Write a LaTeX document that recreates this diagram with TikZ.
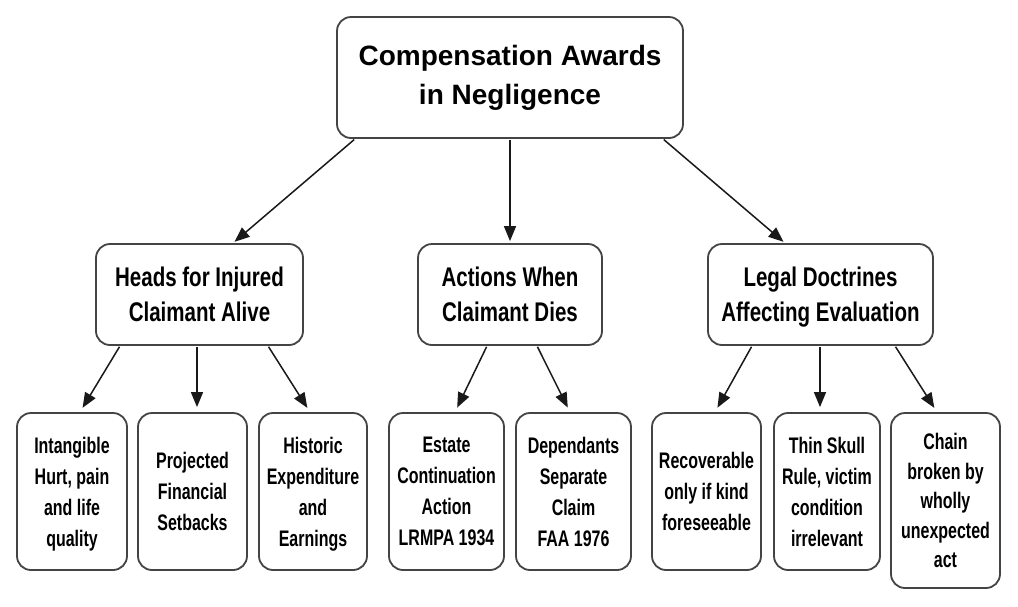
\documentclass[tikz,border=0pt]{standalone}
\usepackage{fontspec}
\setmainfont{Liberation Sans}
\newfontfamily\condfont{Liberation Sans}[FakeStretch=0.76]
\newfontfamily\leaffont{Liberation Sans}[FakeStretch=0.71]
\usetikzlibrary{arrows.meta,calc}
\definecolor{boxline}{HTML}{444444}
\tikzset{
  box/.style={draw=boxline, line width=1.8pt, rounded corners=14pt, fill=white, align=center, inner sep=0pt},
  rootbox/.style={box, font=\fontsize{28}{39}\selectfont\bfseries},
  midbox/.style={box, font=\condfont\fontsize{27}{35}\selectfont\bfseries},
  leafbox/.style={box, font=\leaffont\fontsize{22.5}{31}\selectfont\bfseries},
  arr/.style={line width=1.5pt, draw=black!90, -{Triangle[length=15pt,width=12pt]}}
}
\begin{document}
\begin{tikzpicture}[x=1pt,y=-1pt]
\useasboundingbox[fill=white] (0,0) rectangle (1018,606);
\node[rootbox, minimum width=346pt, minimum height=121pt] (root) at (510,77.5) {Compensation Awards\\in Negligence};
\node[midbox, minimum width=207pt, minimum height=101pt] (heads) at (199.5,294.5) {Heads for Injured\\Claimant Alive};
\node[midbox, minimum width=184pt, minimum height=101pt] (actions) at (510,294.5) {Actions When\\Claimant Dies};
\node[midbox, minimum width=225pt, minimum height=101pt] (legal) at (820.5,294.5) {Legal Doctrines\\\smash{Affecting Evaluation}};
\node[leafbox, minimum width=110pt, minimum height=157pt] (b1) at (72,491.5) {Intangible\\Hurt, pain\\and life\\\smash{quality}};
\node[leafbox, minimum width=109pt, minimum height=157pt] (b2) at (192.5,491.5) {Projected\\Financial\\Setbacks};
\node[leafbox, minimum width=108pt, minimum height=157pt] (b3) at (313,491.5) {Historic\\Expenditure\\and\\\smash{Earnings}};
\node[leafbox, minimum width=115pt, minimum height=157pt] (b4) at (446.5,491.5) {Estate\\Continuation\\Action\\LRMPA 1934};
\node[leafbox, minimum width=115pt, minimum height=157pt] (b5) at (573.5,491.5) {Dependants\\Separate\\Claim\\FAA 1976};
\node[leafbox, minimum width=109pt, minimum height=157pt] (b6) at (706.5,491.5) {Recoverable\\only if kind\\foreseeable};
\node[leafbox, minimum width=106pt, minimum height=157pt] (b7) at (827,491.5) {Thin Skull\\Rule, victim\\condition\\irrelevant};
\node[leafbox, minimum width=109pt, minimum height=175pt, font=\leaffont\fontsize{22.5}{29.5}\selectfont\bfseries] (b8) at (945.5,500.5) {Chain\\broken by\\wholly\\unexpected\\act};
% level 1 -> level 2
\draw[arr, shorten <=1pt, shorten >=2pt] ([xshift=-155pt]root.south) -- ([xshift=33.5pt]heads.north);
\draw[arr, shorten <=1pt, shorten >=2pt] (root.south) -- (actions.north);
\draw[arr, shorten <=1pt, shorten >=2pt] ([xshift=153pt]root.south) -- ([xshift=-35.5pt]legal.north);
% level 2 -> level 3
\draw[arr, shorten <=1pt, shorten >=5pt] ([xshift=-79.5pt]heads.south) -- ([xshift=8pt]b1.north);
\draw[arr, shorten <=1pt, shorten >=5pt] ([xshift=-2.5pt]heads.south) -- ([xshift=4.5pt]b2.north);
\draw[arr, shorten <=1pt, shorten >=5pt] ([xshift=68.5pt]heads.south) -- ([xshift=-3pt]b3.north);
\draw[arr, shorten <=1pt, shorten >=5pt] ([xshift=-23pt]actions.south) -- ([xshift=8.5pt]b4.north);
\draw[arr, shorten <=1pt, shorten >=5pt] ([xshift=27pt]actions.south) -- ([xshift=-3.5pt]b5.north);
\draw[arr, shorten <=1pt, shorten >=5pt] ([xshift=-68.5pt]legal.south) -- ([xshift=8.5pt]b6.north);
\draw[arr, shorten <=1pt, shorten >=5pt] ([xshift=-0.5pt]legal.south) -- ([xshift=-7pt]b7.north);
\draw[arr, shorten <=1pt, shorten >=5pt] ([xshift=74.5pt]legal.south) -- ([xshift=-8.5pt]b8.north);
\end{tikzpicture}
\end{document}
